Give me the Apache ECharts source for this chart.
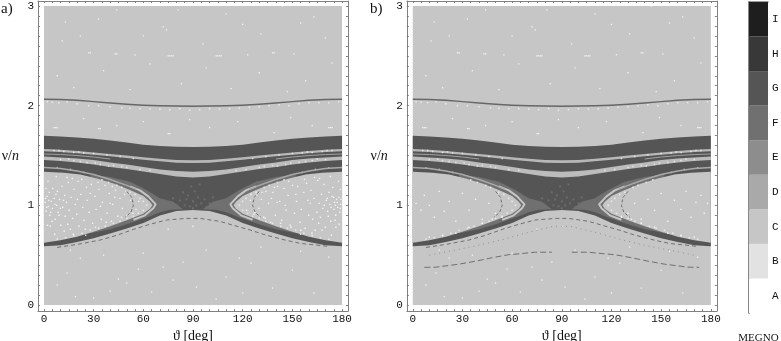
<!DOCTYPE html>
<html><head><meta charset="utf-8">
<style>html,body{margin:0;padding:0;background:#fff}#c{width:781px;height:341px}</style>
<script src="https://cdn.jsdelivr.net/npm/echarts@6/dist/echarts.min.js"></script>
</head><body><div id="c"></div>
<script>
const thetaTicks=[0,30,60,90,120,150,180];
const thetaMinor=[0,5,10,15,20,25,30,35,40,45,50,55,60,65,70,75,80,85,90,95,100,105,110,115,120,125,130,135,140,145,150,155,160,165,170,175,180];
const nuTicks=[0,1,2,3];
const nuMinor=[0,0.1,0.2,0.3,0.4,0.5,0.6,0.7,0.8,0.9,1,1.1,1.2,1.3,1.4,1.5,1.6,1.7,1.8,1.9,2,2.1,2.2,2.3,2.4,2.5,2.6,2.7,2.8,2.9,3];
const megnoLetters=['A','B','C','D','E','F','G','H','I'];
const megnoColors=['#ffffff','#e2e2e2','#c6c6c6','#a9a9a9','#8d8d8d','#707070','#555555','#383838','#1e1e1e'];
const megnoSpan=[1,1,1,1,1,1,1,1,1];

const thetaGrid=[0,10,20,30,40,50,60,70,80,90,100,110,120,130,140,150,160,170,180];
const mainTop=[1.698,1.69,1.68,1.667,1.65,1.63,1.608,1.595,1.587,1.585,1.587,1.595,1.608,1.63,1.65,1.667,1.68,1.69,1.698];
const wingBottom=[0.589,0.60,0.632,0.669,0.717,0.767,0.822,0.898,0.943,0.953,0.943,0.898,0.822,0.767,0.717,0.669,0.632,0.60,0.589];
const stripe1Top=[1.565,1.557,1.545,1.53,1.514,1.5,1.483,1.467,1.454,1.452,1.454,1.467,1.483,1.5,1.514,1.53,1.545,1.557,1.565];
const stripe1Low=[1.543,1.535,1.523,1.508,1.493,1.476,1.457,1.442,1.428,1.425,1.428,1.442,1.457,1.476,1.493,1.508,1.523,1.535,1.543];
const stripe2Top=[1.49,1.48,1.47,1.455,1.43,1.41,1.385,1.36,1.344,1.337,1.344,1.36,1.385,1.41,1.43,1.455,1.47,1.48,1.49];
const stripe2Low=[1.455,1.444,1.43,1.41,1.384,1.364,1.339,1.314,1.289,1.28,1.289,1.314,1.339,1.364,1.384,1.41,1.43,1.444,1.455];
const ridgeTop=[2.073,2.069,2.063,2.048,2.033,2.021,2.011,2.006,2.003,2.002,2.003,2.006,2.011,2.021,2.033,2.048,2.063,2.069,2.073];
const ridgeLow=[2.058,2.054,2.048,2.033,2.018,2.006,1.996,1.991,1.988,1.987,1.988,1.991,1.996,2.006,2.018,2.033,2.048,2.054,2.058];

const lensLeft=[[0,1.337],[12,1.327],[22,1.31],[32,1.27],[42,1.22],[52,1.153],[60,1.093],[64,1.035],[65.5,1.0],[64,0.965],[60,0.915],[50,0.85],[40,0.79],[30,0.735],[20,0.685],[10,0.65],[0,0.625]];
const lensRight=[[180,1.337],[168,1.327],[158,1.31],[148,1.27],[138,1.22],[128,1.153],[120,1.093],[116,1.035],[114.5,1.0],[116,0.965],[120,0.915],[130,0.85],[140,0.79],[150,0.735],[160,0.685],[170,0.65],[180,0.625]];
const haloLeft=[[28,1.31],[40,1.285],[52,1.237],[62,1.153],[70,1.07],[78,1.036],[84,0.96],[76,0.955],[70,0.93],[64,0.89],[58,0.855],[50,0.81],[40,0.76],[28,0.72]];
const haloRight=[[152,1.31],[140,1.285],[128,1.237],[118,1.153],[110,1.07],[102,1.036],[96,0.96],[104,0.955],[110,0.93],[116,0.89],[122,0.855],[130,0.81],[140,0.76],[152,0.72]];
const arcLeft=[[52,1.19],[58,1.15],[63,1.09],[67.5,1.01],[66,0.97],[61,0.9],[54,0.855]];
const arcRight=[[128,1.19],[122,1.15],[117,1.09],[112.5,1.01],[114,0.97],[119,0.9],[126,0.855]];
const seamLeft=[[0,1.38],[10,1.37],[20,1.345],[30,1.31],[40,1.26],[50,1.2],[56,1.16]];
const seamRight=[[180,1.38],[170,1.37],[160,1.345],[150,1.31],[140,1.26],[130,1.2],[124,1.16]];
const thinLeft=[[0,1.515],[10,1.51],[20,1.5],[30,1.485],[40,1.465]];
const thinRight=[[180,1.515],[170,1.51],[160,1.5],[150,1.485],[140,1.465]];
const innerArcLeft=[[50,1.14],[53,1.08],[54,1.0],[52.5,0.93],[49,0.88]];
const innerArcRight=[[130,1.14],[127,1.08],[126,1.0],[127.5,0.93],[131,0.88]];
const edgeCurve=[[8,0.578],[20,0.608],[34,0.652],[44,0.7],[54,0.759],[64,0.81],[74,0.853],[86,0.869],[94,0.869],[106,0.84],[114,0.802],[124,0.755],[134,0.702],[146,0.65],[155,0.618],[171,0.59]];
const lowCurveL=[[7,0.378],[14,0.38],[28,0.41],[38,0.44],[48,0.475],[58,0.505],[65,0.515],[74,0.53],[84,0.53]];
const lowCurveR=[[96,0.53],[106,0.53],[115,0.515],[122,0.505],[132,0.475],[142,0.44],[152,0.41],[166,0.38],[173,0.378]];
const dotCurve=[[10,0.5],[25,0.55],[40,0.6],[55,0.66],[70,0.73],[85,0.79],[95,0.79],[110,0.73],[125,0.66],[140,0.6],[155,0.55],[170,0.5]];

const fieldSpecks=[[13,2.84],[120,2.815],[11,2.65],[72,2.79],[74,2.76],[163,2.89],[155,2.83],[81,2.96],[44,2.96],[144,3.0],[27,2.53],[28,2.53],[43,2.52],[44,2.52],[75,2.5],[76,2.5],[77,2.5],[78,2.5],[104,2.5],[105,2.5],[106,2.5],[107,2.5],[123,2.51],[138,2.53],[139,2.53],[151,2.52],[55,2.51],[8,2.3],[22,2.7],[33,2.87],[60,2.7],[96,2.62],[110,2.92],[131,2.72],[170,2.68],[174,2.43],[158,2.25],[130,2.33],[98,2.38],[64,2.42],[36,2.35],[18,2.18],[83,2.22],[113,2.17],[147,2.14],[52,2.16],[6,1.78],[7,1.78],[8,1.78],[33,1.77],[34,1.77],[75,1.72],[76,1.72],[100,1.78],[139,1.73],[172,1.78],[173,1.78],[174,1.78],[24,1.87],[44,1.8],[60,1.84],[88,1.86],[117,1.84],[149,1.88],[162,1.8],
[75,0.76],[90,0.79],[92,0.18],[45,0.26],[50,0.22],[19,0.085],[30,0.07],[14,0.32],[22,0.47],[60,0.52],[72,0.38],[84,0.43],[98,0.55],[110,0.28],[125,0.42],[138,0.17],[150,0.35],[163,0.12],[172,0.48],[36,0.5],[8,0.2],[65,0.13],[104,0.06],[120,0.12],[155,0.54],[40,0.14],[78,0.25],[131,0.58],[16,0.55],[57,0.36],[118,0.47]];
const ridgeSpecks=[[2,2.04],[5,2.035],[9,2.03],[14,2.04],[20,2.02],[27,2.0],[33,2.0],[40,1.99],[47,1.98],[52,1.975],[58,1.97],[64,1.97],[70,1.965],[76,1.96],[82,1.97],[88,1.955],[94,1.96],[100,1.97],[106,1.965],[112,1.97],[118,1.975],[124,1.985],[130,1.99],[136,2.0],[142,2.01],[148,2.0],[154,2.02],[160,2.03],[166,2.03],[172,2.03],[178,2.04]];
const stripeSpecks=[[6,1.55],[12,1.54],[18,1.53],[24,1.525],[30,1.52],[38,1.505],[46,1.49],[54,1.47],[126,1.47],[134,1.49],[142,1.505],[150,1.52],[156,1.525],[162,1.53],[168,1.54],[174,1.55],[10,1.46],[18,1.45],[26,1.43],[34,1.41],[42,1.4],[50,1.38],[58,1.36],[64,1.35],[116,1.35],[122,1.36],[130,1.38],[138,1.4],[146,1.41],[154,1.43],[162,1.45],[170,1.46],[8,1.375],[16,1.36],[24,1.33],[156,1.33],[164,1.36],[172,1.375],[15,1.465],[22,1.44],[31,1.425],[39,1.395],[47,1.39],[133,1.39],[141,1.395],[149,1.425],[158,1.44],[165,1.465],[9,1.55],[21,1.535],[159,1.535],[171,1.55]];
const edgeSpecks=[[35,1.255],[39,1.23],[44,1.2],[47,1.18],[52,1.13],[55,1.11],[58,1.07],[60,1.04],[62,1.0],[60,0.95],[57,0.92],[54,0.89],[50,0.87],[46,0.84],[42,0.82],[37,0.79],[33,0.77],[28,0.75],[23,0.72],[18,0.695],[13,0.675],[8,0.66],[145,1.255],[141,1.23],[136,1.2],[133,1.18],[128,1.13],[125,1.11],[122,1.07],[120,1.04],[118,1.0],[120,0.95],[123,0.92],[126,0.89],[130,0.87],[134,0.84],[138,0.82],[143,0.79],[147,0.77],[152,0.75],[157,0.72],[162,0.695],[167,0.675],[172,0.66]];
const centerSpecks=[[82,1.05],[85,1.0],[87,1.1],[88,0.99],[90,1.04],[91,1.14],[92,1.0],[93,1.08],[95,1.02],[97,1.06],[98,0.98],[84,1.13],[78,1.07],[102,1.08],[89,1.19],[94,1.21],[86,1.06],[90,0.97],[100,1.02],[80,1.0]];

const lensSpecksA=[[0.7,1.03],[1.4,0.94],[1.9,1.09],[2.6,0.99],[3.2,1.13],[3.5,0.9],[4.4,1.04],[5.1,0.97],[5.3,1.17],[6.2,1.07],[6.8,0.86],[7.7,1.0],[8.1,1.14],[8.6,0.93],[9.4,1.06],[10.2,0.8],[10.9,1.19],[11.3,0.98],[12.5,1.1],[12.8,0.89],[13.6,1.03],[14.7,1.23],[15.2,0.95],[15.9,0.76],[16.4,1.08],[17.3,0.87],[18.2,1.16],[18.9,1.01],[19.8,0.91],[20.6,1.24],[21.1,0.79],[22.3,1.11],[23.4,0.98],[24.2,0.85],[25.7,1.18],[26.1,1.05],[27.3,0.93],[28.6,1.21],[29.4,0.82],[30.8,1.09],[31.5,0.96],[33.2,1.16],[34.6,0.86],[35.3,1.03],[36.9,1.2],[38.1,0.92],[39.4,1.12],[40.7,0.84],[41.5,1.01],[43.2,1.15],[44.6,0.89],[45.9,1.07],[47.3,0.97],[48.8,1.11],[50.2,0.9],[52.4,1.05],[55.6,0.96],[57.2,1.04],[3.8,0.79],[6.5,0.71],[12.2,0.74],[17.7,0.71],[24.9,0.76],[31.1,0.78],[37.6,0.83],[46.8,0.88],[53.7,0.92],[2.4,1.24],[7.4,1.29],[13.9,1.28],[22.8,1.26],[32.7,1.23],[41.3,1.19],[49.6,1.14],[4.9,0.84],[9.1,0.9],[14.4,0.81],[20.2,1.06],[27.9,1.12],[34.1,0.99],[42.7,1.08],[2.1,0.8],[1.2,1.17],[17.1,1.27],[25.2,0.7],[39.9,1.02],[0.9,1.07],[1.7,0.98],[2.9,1.05],[4.1,0.93],[6.6,1.01],[7.2,1.11],[9.9,0.97],[11.8,1.05],
[179.2,1.01],[178.6,0.93],[178.1,1.08],[177.4,0.98],[176.7,1.06],[176.2,0.9],[175.5,1.03],[175.1,0.96],[174.4,1.18],[173.9,1.09],[173.2,0.84],[172.6,1.01],[172.1,1.13],[171.3,0.94],[170.5,1.05],[169.9,0.78],[169.2,1.21],[168.4,0.97],[167.6,1.11],[166.9,0.88],[166.2,1.02],[165.3,1.25],[164.8,0.93],[163.8,0.75],[163.1,1.07],[162.3,0.86],[161.2,1.15],[160.7,1.02],[159.9,0.9],[158.6,1.22],[157.7,0.77],[156.9,1.13],[155.4,0.96],[154.6,0.83],[153.2,1.19],[152.5,1.04],[151.3,0.92],[150.1,1.2],[148.7,0.8],[147.4,1.1],[146.2,0.95],[144.9,1.17],[143.6,0.85],[142.4,1.04],[141.1,1.19],[139.7,0.9],[138.3,1.13],[136.8,0.83],[135.6,1.02],[134.1,1.14],[132.7,0.88],[131.2,1.06],[129.8,0.97],[128.4,1.1],[126.9,0.91],[124.7,1.05],[122.3,0.95],[176.3,0.78],[173.6,0.7],[167.9,0.75],[161.8,0.72],[155.1,0.75],[149.2,0.78],[142.9,0.82],[133.6,0.87],[127.2,0.93],[177.9,1.24],[172.9,1.29],[166.4,1.27],[157.3,1.26],[147.8,1.24],[139.2,1.18],[131.6,1.13],[175.8,0.85],[171.7,0.89],[165.9,0.82],[159.3,1.05],[152.1,1.11],[145.7,1.0],[137.4,1.07],[178.3,0.81],[179,1.16],[163.4,1.28],[154.9,0.71],[140.8,1.03],[179.4,1.06],[178.9,0.97],[177.1,1.03],[176,1.0],[174.9,1.08],[173.4,0.98],[171.1,1.07],[169.3,1.0]];
const lensSpecksB=[[2,1.02],[5,0.95],[7,1.1],[10,1.0],[13,0.88],[16,1.14],[19,0.94],[22,1.04],[26,0.84],[30,1.12],[34,0.95],[38,1.06],[42,0.86],[46,1.02],[50,0.92],[54,0.88],[34,0.78],[42,0.82],[48,0.86],[26,0.72],[18,0.7],[10,0.68],
[178,1.02],[176,0.92],[174,1.1],[171,1.03],[168,0.88],[165,1.14],[162,0.96],[158,1.05],[154,0.84],[150,1.12],[146,0.95],[142,1.06],[138,0.86],[134,1.02],[130,0.92],[126,0.88],[146,0.78],[138,0.82],[132,0.86],[154,0.72],[162,0.7],[170,0.68]];

const zipBand=(t,l)=>thetaGrid.map((x,i)=>[x,t[i]]).concat(thetaGrid.map((x,i)=>[x,l[i]]).reverse());
const outer=zipBand(mainTop,wingBottom);
const plate=[[0,0],[180,0],[180,3],[0,3]];
const AX='#808080',DARK='#555555',MID='#707070',PALE='#c6c6c6',TXT='#111';

function poly(pts,color,g){
  return {type:'custom',xAxisIndex:g.x,yAxisIndex:g.y,clip:true,silent:true,animation:false,data:pts,
    encode:{x:0,y:1},
    renderItem(p,api){
      if(p.dataIndex!==0) return null;
      return {type:'polygon',shape:{points:pts.map(q=>api.coord(q))},style:{fill:color}};
    }};
}
function ln(pts,color,w,g,dash){
  return {type:'line',xAxisIndex:g.x,yAxisIndex:g.y,data:pts,showSymbol:false,silent:true,animation:false,
    lineStyle:{color,width:w,type:dash||'solid'}};
}
function dots(pts,color,size,g){
  return {type:'scatter',xAxisIndex:g.x,yAxisIndex:g.y,data:pts,symbol:'rect',symbolSize:size,silent:true,animation:false,
    itemStyle:{color}};
}
function panelSeries(g,lensSpecks,extra){
  return [
    poly(plate,PALE,g),
    poly(outer,DARK,g),
    poly(zipBand(ridgeTop,ridgeLow),'#666666',g),
    poly(haloLeft,MID,g),poly(haloRight,MID,g),
    ln(arcLeft,PALE,2,g),ln(arcRight,PALE,2,g),
    poly(lensLeft,PALE,g),poly(lensRight,PALE,g),
    poly(zipBand(stripe1Top,stripe1Low),'#b8b8b8',g),
    poly(zipBand(stripe2Top,stripe2Low),'#bcbcbc',g),
    ln(seamLeft,'#a9a9a9',1.5,g),ln(seamRight,'#a9a9a9',1.5,g),
    ln(thinLeft,'#a0a0a0',1,g),ln(thinRight,'#a0a0a0',1,g),
    ln(innerArcLeft,MID,1,g,[3,2]),ln(innerArcRight,MID,1,g,[3,2]),
    ln(edgeCurve,MID,1,g,[4,3]),
    ...extra,
    dots(centerSpecks,MID,2,g),
    dots(fieldSpecks,'#ffffff',1.3,g),
    dots(ridgeSpecks,'#f4f4f4',1.5,g),
    dots(stripeSpecks,'#f0f0f0',1.5,g),
    dots(edgeSpecks,'#f0f0f0',1.6,g),
    dots(lensSpecks,'#ffffff',1.4,g)
  ];
}
const gridBase={top:1,width:310,height:310,show:false,outerBoundsMode:'none'};
const gridA={...gridBase,left:38};
const gridB={...gridBase,left:406.8};
const gridC={left:749,top:2,width:19,height:311,show:false,outerBoundsMode:'none'};
const serif='"Liberation Serif",serif',mono='"Liberation Mono",monospace';
const lineCfg={show:true,onZero:false,lineStyle:{color:AX,width:1}};
function xAxes(g){
  return [
   {gridIndex:g,type:'value',position:'bottom',min:-3.6,max:183.6,axisLine:lineCfg,splitLine:{show:false},
    axisTick:{show:true,inside:true,length:2,customValues:thetaMinor,lineStyle:{color:AX}},
    axisLabel:{customValues:thetaTicks,margin:3,fontFamily:mono,fontSize:11,color:TXT,showMinLabel:true,showMaxLabel:true},
    name:'ϑ [deg]',nameLocation:'middle',nameGap:18,nameMoveOverlap:false,nameTextStyle:{fontFamily:serif,fontSize:14,color:TXT}},
   {gridIndex:g,type:'value',position:'top',min:-3.6,max:183.6,axisLine:lineCfg,splitLine:{show:false},
    axisTick:{show:true,inside:true,length:2,customValues:thetaMinor,lineStyle:{color:AX}},axisLabel:{show:false}}
  ];
}
function yAxes(g){
  return [
   {gridIndex:g,type:'value',position:'left',min:-0.06,max:3.05,axisLine:lineCfg,splitLine:{show:false},
    axisTick:{show:true,inside:true,length:2,customValues:nuMinor,lineStyle:{color:AX}},
    axisLabel:{customValues:nuTicks,margin:4,fontFamily:mono,fontSize:11,color:TXT},
    name:'{a|ν/}{b|n}',nameLocation:'middle',nameRotate:0,nameGap:19,nameMoveOverlap:false,
    nameTextStyle:{rich:{a:{fontFamily:serif,fontSize:14,color:TXT},b:{fontFamily:serif,fontSize:14,fontStyle:'italic',color:TXT}}}},
   {gridIndex:g,type:'value',position:'right',min:-0.06,max:3.05,axisLine:lineCfg,splitLine:{show:false},
    axisTick:{show:true,inside:true,length:2,customValues:nuMinor,lineStyle:{color:AX}},axisLabel:{show:false}}
  ];
}
const gA={x:0,y:0},gB={x:2,y:2};
const option={
  animation:false,backgroundColor:'#fff',
  title:[
    {text:'a)',left:1,top:2,padding:0,textStyle:{fontFamily:serif,fontSize:15,fontWeight:'normal',color:TXT}},
    {text:'b)',left:370,top:2,padding:0,textStyle:{fontFamily:serif,fontSize:15,fontWeight:'normal',color:TXT}}
  ],
  grid:[gridA,gridB,gridC],
  xAxis:[...xAxes(0),...xAxes(1),
    {gridIndex:2,type:'value',position:'bottom',min:0,max:1,axisLine:{show:false},axisTick:{show:false},axisLabel:{show:false},splitLine:{show:false},
     name:'MEGNO',nameLocation:'middle',nameGap:20,nameMoveOverlap:false,nameTextStyle:{fontFamily:serif,fontSize:11,color:TXT}},
    {gridIndex:2,type:'value',position:'top',min:0,max:1,axisLine:{show:true,lineStyle:{color:AX,width:1.5}},axisTick:{show:false},axisLabel:{show:false},splitLine:{show:false}}
  ],
  yAxis:[...yAxes(0),...yAxes(1),
    {gridIndex:2,type:'category',data:megnoLetters,position:'right',axisLine:{show:true,lineStyle:{color:AX,width:1.5}},axisTick:{show:false},
     axisLabel:{margin:4,fontFamily:mono,fontSize:11,color:TXT}},
    {gridIndex:2,type:'category',data:megnoLetters,position:'left',axisLine:{show:true,lineStyle:{color:AX,width:1.5}},axisTick:{show:false},axisLabel:{show:false}}
  ],
  series:[
    ...panelSeries(gA,lensSpecksA,[]),
    ...panelSeries(gB,lensSpecksB,[
      ln(lowCurveL,MID,1,gB,[6,3]),ln(lowCurveR,MID,1,gB,[6,3]),
      ln(dotCurve,'#909090',1,gB,[1,4])
    ]),
    {type:'bar',xAxisIndex:4,yAxisIndex:4,barWidth:'100%',silent:true,animation:false,
     data:megnoSpan.map((v,i)=>({value:v,itemStyle:{color:megnoColors[i]}}))}
  ]
};
echarts.init(document.getElementById('c'),null,{renderer:'canvas'}).setOption(option);
</script></body></html>
